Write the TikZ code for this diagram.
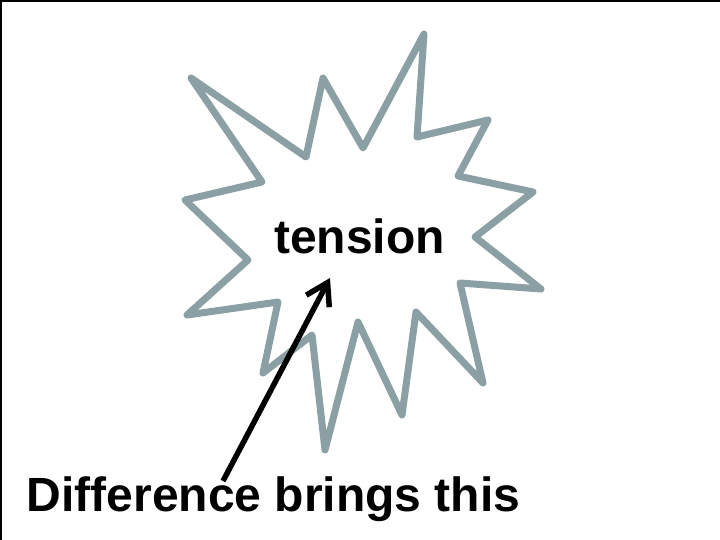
\documentclass[tikz,border=0pt]{standalone}
\usepackage{fontspec}
\setmainfont{Liberation Sans}
\usetikzlibrary{arrows.meta}
\definecolor{stargray}{RGB}{139,160,164}
\tikzset{
  starline/.style={draw=stargray, line width=7pt, line join=round, fill=white},
  bigtext/.style={inner sep=0pt, anchor=base west, font=\fontsize{48}{56}\selectfont\bfseries},
  pointer/.style={draw=black, line width=5.5pt, -{Straight Barb[length=21pt,width=26pt,line width=5.5pt]}},
  frame/.style={draw=black, line width=2pt}
}
\begin{document}
\begin{tikzpicture}[x=1pt,y=-1pt]
\useasboundingbox (0,0) rectangle (720,540);
\fill[white] (0,0) rectangle (720,540);
\draw[frame] (1,540) -- (1,1) -- (720,1);
\draw[starline] (191,78) -- (306,157) -- (323,78) -- (363,148) -- (424,34) -- (417,137)
  -- (488,120) -- (458,176) -- (533,192) -- (475,237) -- (541,289) -- (460,283)
  -- (483,383) -- (416,312) -- (402,415) -- (358,322) -- (325,450) -- (312,335)
  -- (263,373) -- (278,302) -- (187,315) -- (248,260) -- (185,200) -- (262,182) -- cycle;
\node[bigtext] (tension) at (274,253) {tension};
\node[bigtext] (diff) at (26.5,511) {Difference brings this};
\coordinate (tail) at (223,481);
\coordinate (tip) at (330,278);
\draw[pointer] (tail) -- (tip);
\end{tikzpicture}
\end{document}
